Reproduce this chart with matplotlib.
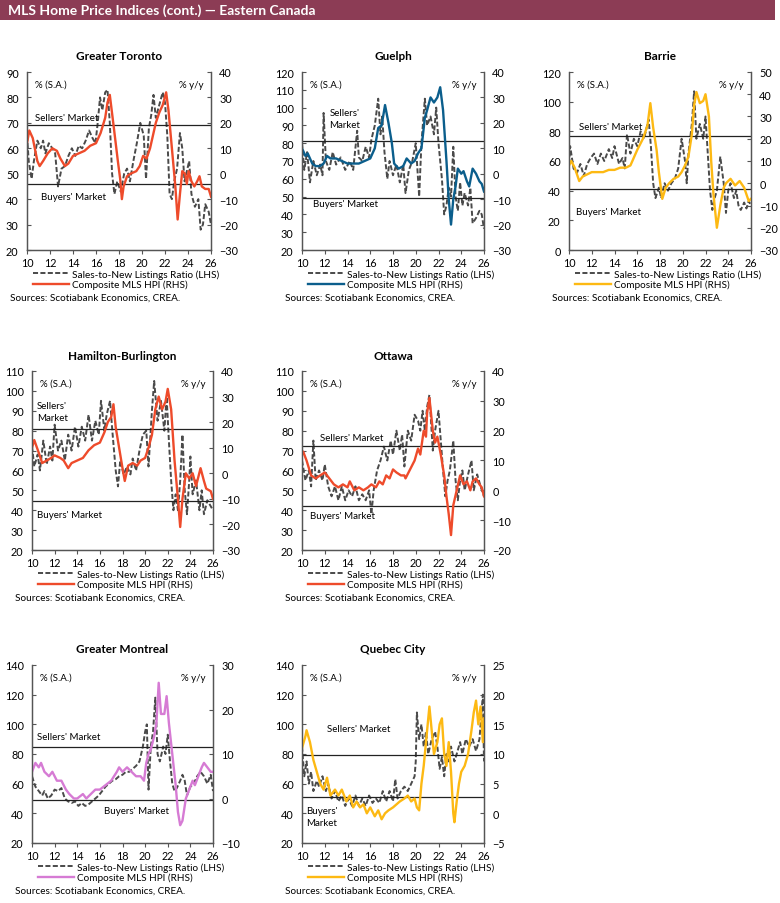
import numpy as np
import matplotlib.pyplot as plt
from matplotlib.patches import Rectangle
from matplotlib.lines import Line2D
plt.switch_backend('agg')

plt.rcParams['font.family'] = ['Lato', 'DejaVu Sans']

# ---- data: [year, value] ----
tor_snlr = [[2010.0,65],[2010.15,55],[2010.4,48],[2010.6,55],[2010.9,63],[2011.2,60],[2011.4,63],[2011.6,58],
            [2011.9,62],[2012.2,60],[2012.45,58],[2012.7,45],[2013.0,52],[2013.3,53],[2013.6,57],[2013.9,60],
            [2014.2,57],[2014.5,61],[2014.8,60],[2015.1,63],[2015.4,67],[2015.7,64],[2015.95,62],[2016.15,70],
            [2016.35,80],[2016.55,75],[2016.8,82],[2017.0,83],[2017.2,70],[2017.4,50],[2017.6,42],[2017.85,47],
            [2018.15,43],[2018.45,50],[2018.7,52],[2018.95,47],[2019.25,55],[2019.55,62],[2019.85,70],[2020.15,65],
            [2020.35,48],[2020.6,68],[2020.8,73],[2021.0,81],[2021.2,72],[2021.5,77],[2021.8,82],[2022.0,78],
            [2022.2,65],[2022.4,42],[2022.6,40],[2022.8,47],[2023.05,52],[2023.3,66],[2023.5,60],[2023.7,47],
            [2023.95,52],[2024.1,55],[2024.3,42],[2024.6,37],[2024.9,40],[2025.1,28],[2025.3,30],[2025.5,38],
            [2025.8,35],[2026.0,30]]
tor_hpi = [[2010.0,12],[2010.2,17],[2010.5,14],[2010.9,5],[2011.1,3],[2011.4,5],[2011.8,8],[2012.2,10],
           [2012.6,9],[2012.9,6],[2013.3,3],[2013.6,4],[2014.0,7],[2014.5,8],[2015.0,9],[2015.5,11],[2016.0,12],
           [2016.4,16],[2016.8,22],[2017.0,28],[2017.2,31],[2017.5,20],[2017.9,5],[2018.1,-2],[2018.25,-10],
           [2018.4,-5],[2018.7,-1],[2019.0,0],[2019.5,1],[2019.8,3],[2020.1,7],[2020.4,6],[2020.7,10],[2020.9,14],
           [2021.2,20],[2021.5,24],[2021.8,27],[2022.1,32],[2022.3,25],[2022.6,10],[2022.9,-5],[2023.1,-18],
           [2023.3,-8],[2023.5,1],[2023.75,0],[2023.9,-4],[2024.05,1],[2024.3,-3],[2024.55,-5],[2024.8,-3],
           [2025.0,-1],[2025.2,-5],[2025.5,-6],[2025.8,-6],[2026.0,-9]]

gue_snlr = [[2010.0,80],[2010.2,65],[2010.45,75],[2010.7,58],[2011.0,70],[2011.3,62],[2011.6,68],[2011.8,62],
            [2011.9,97],[2012.1,70],[2012.4,65],[2012.7,75],[2013.0,68],[2013.4,72],[2013.8,65],[2014.2,70],
            [2014.5,65],[2014.85,87],[2015.0,72],[2015.3,70],[2015.6,78],[2015.9,72],[2016.1,82],[2016.4,90],
            [2016.7,105],[2016.9,85],[2017.05,95],[2017.25,75],[2017.5,60],[2017.7,70],[2018.0,62],[2018.3,68],
            [2018.6,58],[2018.9,68],[2019.1,52],[2019.4,65],[2019.7,70],[2020.0,80],[2020.3,50],[2020.5,80],
            [2020.8,105],[2021.0,90],[2021.3,95],[2021.6,85],[2021.8,100],[2022.0,80],[2022.3,60],[2022.5,40],
            [2022.7,45],[2022.9,55],[2023.1,50],[2023.3,78],[2023.5,50],[2023.7,42],[2023.9,58],[2024.1,45],
            [2024.3,52],[2024.6,45],[2024.8,55],[2025.0,35],[2025.3,38],[2025.6,42],[2025.8,40],[2026.0,32]]
gue_hpi = [[2010.0,10],[2010.3,7],[2010.5,8],[2010.9,4],[2011.2,3],[2011.6,3],[2011.9,4],[2012.2,7],[2012.5,6],
           [2013.0,6],[2013.5,5],[2014.0,4],[2014.5,4],[2015.0,4],[2015.5,5],[2016.0,6],[2016.4,10],[2016.7,18],
           [2017.0,19],[2017.3,27],[2017.6,20],[2017.9,12],[2018.1,4],[2018.5,2],[2018.9,3],[2019.2,6],[2019.6,4],
           [2019.9,5],[2020.2,8],[2020.5,10],[2020.8,22],[2021.0,25],[2021.3,30],[2021.6,28],[2021.9,30],
           [2022.15,34],[2022.4,25],[2022.7,5],[2022.9,-10],[2023.1,-20],[2023.3,-10],[2023.5,-5],[2023.7,2],
           [2024.0,0],[2024.2,1],[2024.5,-3],[2024.7,-5],[2025.0,2],[2025.3,0],[2025.6,-3],[2025.8,-4],[2026.0,-7]]

bar_snlr = [[2010.0,58],[2010.1,70],[2010.4,55],[2010.7,52],[2011.0,58],[2011.3,50],[2011.6,58],[2011.9,62],
            [2012.2,65],[2012.5,58],[2012.8,65],[2013.1,60],[2013.5,68],[2013.8,62],[2014.0,70],[2014.4,58],
            [2014.7,62],[2014.9,55],[2015.1,78],[2015.4,65],[2015.7,75],[2016.0,70],[2016.3,80],[2016.6,75],
            [2016.9,85],[2017.0,88],[2017.2,70],[2017.4,45],[2017.6,35],[2017.9,42],[2018.1,35],[2018.4,45],
            [2018.7,40],[2019.0,45],[2019.3,48],[2019.6,55],[2019.9,75],[2020.2,60],[2020.35,45],[2020.5,65],
            [2020.8,85],[2021.0,107],[2021.2,75],[2021.5,85],[2021.8,75],[2022.0,90],[2022.2,65],[2022.4,40],
            [2022.6,27],[2022.8,35],[2023.0,40],[2023.3,63],[2023.6,45],[2023.8,25],[2024.0,40],[2024.2,45],
            [2024.5,35],[2024.7,40],[2024.9,30],[2025.1,27],[2025.4,32],[2025.6,28],[2025.8,33],[2026.0,30]]
bar_hpi = [[2010.0,8],[2010.2,10],[2010.5,7],[2010.9,1],[2011.2,3],[2011.6,4],[2012.0,5],[2012.5,5],[2013.0,5],
           [2013.5,6],[2014.0,6],[2014.5,7],[2015.0,7],[2015.4,8],[2016.0,15],[2016.5,20],[2016.9,26],
           [2017.15,36],[2017.4,25],[2017.7,15],[2017.9,5],[2018.2,-7],[2018.5,-2],[2018.8,0],[2019.2,2],
           [2019.6,3],[2019.9,5],[2020.2,8],[2020.5,12],[2020.8,22],[2021.0,35],[2021.2,41],[2021.5,36],
           [2021.8,37],[2022.0,40],[2022.3,30],[2022.5,10],[2022.7,-5],[2022.9,-15],[2023.0,-20],[2023.3,-10],
           [2023.6,-2],[2023.8,0],[2024.0,1],[2024.2,2],[2024.6,-1],[2025.0,1],[2025.4,-2],[2025.6,-5],
           [2025.8,-8],[2026.0,-7]]

ham_snlr = [[2010.0,72],[2010.2,62],[2010.5,68],[2010.7,60],[2011.0,75],[2011.3,63],[2011.6,72],[2011.8,65],
            [2012.0,83],[2012.3,70],[2012.6,75],[2012.9,65],[2013.2,78],[2013.5,70],[2013.8,82],[2014.1,72],
            [2014.4,82],[2014.7,75],[2015.0,88],[2015.3,75],[2015.6,85],[2015.9,78],[2016.1,95],[2016.4,80],
            [2016.6,88],[2016.9,95],[2017.1,80],[2017.4,60],[2017.6,52],[2017.8,65],[2018.1,58],[2018.4,62],
            [2018.7,58],[2018.9,66],[2019.2,60],[2019.5,70],[2019.8,78],[2020.1,80],[2020.3,62],[2020.6,90],
            [2020.8,105],[2021.1,85],[2021.4,95],[2021.7,80],[2021.9,97],[2022.1,75],[2022.3,55],[2022.5,40],
            [2022.7,48],[2022.9,40],[2023.1,55],[2023.3,78],[2023.5,50],[2023.7,38],[2023.9,55],[2024.0,67],
            [2024.2,48],[2024.5,55],[2024.8,40],[2025.0,50],[2025.2,38],[2025.5,45],[2025.8,42],[2026.0,40]]
ham_hpi = [[2010.0,10],[2010.2,13],[2010.6,8],[2010.9,4],[2011.3,5],[2011.7,6],[2012.0,7],[2012.5,6],[2012.8,5],
           [2013.2,2],[2013.5,4],[2014.0,5],[2014.5,6],[2015.0,9],[2015.5,11],[2016.0,12],[2016.4,16],[2016.7,20],
           [2017.0,22],[2017.2,27],[2017.4,18],[2017.7,10],[2018.0,2],[2018.2,-3],[2018.5,3],[2018.9,4],
           [2019.3,3],[2019.6,5],[2020.0,6],[2020.3,10],[2020.6,15],[2020.9,25],[2021.2,30],[2021.5,25],
           [2021.8,28],[2022.0,33],[2022.3,25],[2022.6,5],[2022.9,-10],[2023.1,-21],[2023.3,-10],[2023.6,0],
           [2023.9,-2],[2024.2,0],[2024.5,-5],[2024.9,2],[2025.2,-3],[2025.4,-6],[2025.8,-7],[2026.0,-10]]

ott_snlr = [[2010.0,65],[2010.3,55],[2010.6,60],[2010.8,52],[2011.0,75],[2011.2,55],[2011.5,60],[2011.8,55],
            [2012.0,63],[2012.3,52],[2012.6,47],[2012.9,52],[2013.2,45],[2013.5,52],[2013.8,45],[2014.1,50],
            [2014.4,47],[2014.7,52],[2015.0,45],[2015.3,48],[2015.6,45],[2015.9,50],[2016.1,38],[2016.3,50],
            [2016.6,60],[2016.9,65],[2017.2,72],[2017.5,65],[2017.8,75],[2018.0,68],[2018.3,80],[2018.6,70],
            [2018.8,78],[2019.0,62],[2019.3,80],[2019.6,75],[2019.9,88],[2020.2,85],[2020.4,80],[2020.6,90],
            [2020.8,80],[2021.0,92],[2021.2,98],[2021.5,70],[2021.7,80],[2022.0,90],[2022.2,75],[2022.4,60],
            [2022.6,47],[2022.8,55],[2023.0,60],[2023.3,75],[2023.5,55],[2023.7,45],[2023.9,55],[2024.1,60],
            [2024.3,50],[2024.6,58],[2024.9,65],[2025.1,50],[2025.4,58],[2025.7,52],[2026.0,47]]
ott_hpi = [[2010.0,12],[2010.1,13],[2010.4,10],[2010.8,5],[2011.2,4],[2011.6,5],[2012.0,6],[2012.4,4],[2012.8,2],
           [2013.2,1],[2013.6,2],[2014.0,1],[2014.2,3],[2014.6,0],[2015.0,1],[2015.4,0],[2015.8,1],[2016.1,2],
           [2016.5,1],[2016.8,3],[2017.1,2],[2017.4,5],[2017.7,4],[2018.0,7],[2018.3,6],[2018.7,5],[2019.0,5],
           [2019.1,4],[2019.5,7],[2019.9,10],[2020.2,14],[2020.4,12],[2020.7,20],[2020.9,18],[2021.0,26],
           [2021.2,31],[2021.5,20],[2021.7,16],[2021.9,18],[2022.2,12],[2022.5,5],[2022.7,-2],[2022.9,-8],
           [2023.1,-15],[2023.3,-5],[2023.6,0],[2023.9,5],[2024.2,2],[2024.5,3],[2024.8,0],[2025.0,3],[2025.3,4],
           [2025.6,2],[2025.8,1],[2026.0,-2]]

mtl_snlr = [[2010.0,65],[2010.3,58],[2010.6,55],[2010.9,52],[2011.1,55],[2011.4,50],[2011.7,52],[2012.0,56],
            [2012.3,55],[2012.6,57],[2012.9,50],[2013.2,48],[2013.5,47],[2013.8,48],[2014.1,45],[2014.4,47],
            [2014.7,45],[2015.0,46],[2015.3,48],[2015.6,50],[2015.9,52],[2016.2,55],[2016.5,58],[2016.8,60],
            [2017.1,62],[2017.4,63],[2017.7,65],[2018.0,66],[2018.3,68],[2018.6,68],[2018.9,70],[2019.2,72],
            [2019.5,75],[2019.8,85],[2020.0,95],[2020.15,100],[2020.3,56],[2020.5,85],[2020.7,95],[2020.9,118],
            [2021.1,80],[2021.3,75],[2021.6,85],[2021.8,80],[2022.0,93],[2022.2,75],[2022.4,60],[2022.6,55],
            [2022.8,57],[2023.1,62],[2023.3,66],[2023.5,62],[2023.7,52],[2024.0,58],[2024.3,60],[2024.6,65],
            [2024.9,68],[2025.2,65],[2025.5,60],[2025.8,66],[2026.0,55]]
mtl_hpi = [[2010.0,6],[2010.3,8],[2010.6,7],[2010.8,8],[2011.1,6],[2011.5,5],[2011.8,6],[2012.2,4],[2012.6,4],
           [2013.0,2],[2013.3,1],[2013.7,0],[2014.0,0],[2014.5,1],[2014.8,0],[2015.2,1],[2015.6,2],[2016.0,2],
           [2016.5,3],[2017.0,4],[2017.5,6],[2017.7,7],[2018.0,6],[2018.4,7],[2018.8,6],[2019.2,5],[2019.6,5],
           [2019.9,4],[2020.1,8],[2020.3,10],[2020.5,11],[2020.8,14],[2021.0,17],[2021.2,26],[2021.4,19],
           [2021.7,19],[2021.9,23],[2022.1,17],[2022.4,10],[2022.7,3],[2022.9,-3],[2023.1,-6],[2023.3,-5],
           [2023.6,0],[2023.9,2],[2024.2,4],[2024.4,3],[2024.7,5],[2025.0,7],[2025.2,8],[2025.5,7],[2025.8,6],
           [2026.0,6]]

qc_snlr = [[2010.0,85],[2010.2,65],[2010.4,75],[2010.6,60],[2010.8,68],[2011.0,55],[2011.3,62],[2011.5,58],
           [2011.8,65],[2012.1,55],[2012.3,60],[2012.6,50],[2012.9,55],[2013.2,48],[2013.5,52],[2013.8,45],
           [2014.1,50],[2014.4,45],[2014.7,52],[2015.0,45],[2015.3,50],[2015.6,45],[2015.9,52],[2016.2,47],
           [2016.5,50],[2016.8,47],[2017.1,55],[2017.4,48],[2017.7,55],[2018.0,48],[2018.2,63],[2018.4,50],
           [2018.7,55],[2019.0,58],[2019.3,55],[2019.6,60],[2019.9,65],[2020.0,75],[2020.1,108],[2020.3,90],
           [2020.5,100],[2020.7,85],[2020.9,95],[2021.1,80],[2021.4,90],[2021.7,95],[2021.9,85],[2022.1,70],
           [2022.3,78],[2022.5,65],[2022.7,80],[2022.9,75],[2023.1,85],[2023.4,75],[2023.6,80],[2023.9,88],
           [2024.1,80],[2024.4,90],[2024.7,85],[2025.0,90],[2025.3,82],[2025.6,90],[2025.9,120],[2026.0,75]]
qc_hpi = [[2010.0,11],[2010.3,13],[2010.4,14],[2010.7,12],[2011.0,9],[2011.3,7],[2011.6,5],[2011.9,4],[2012.2,6],
          [2012.5,3],[2012.9,4],[2013.2,3],[2013.5,4],[2013.9,2],[2014.2,3],[2014.5,1],[2014.8,2],[2015.1,1],
          [2015.4,1.5],[2015.7,0],[2016.0,1],[2016.4,-0.5],[2016.7,0.5],[2017.0,-1],[2017.3,0],[2017.6,0.5],
          [2018.0,1],[2018.3,1.5],[2018.6,2],[2019.0,2.5],[2019.3,3],[2019.6,2],[2019.9,2.5],[2020.1,1],
          [2020.3,0.5],[2020.5,5],[2020.7,8],[2020.9,12],[2021.2,18],[2021.4,14],[2021.6,10],[2021.9,12],
          [2022.1,15],[2022.3,16],[2022.5,10],[2022.7,8],[2022.9,12],[2023.1,7],[2023.3,0],[2023.4,-1.5],
          [2023.6,2],[2023.8,5],[2024.0,7],[2024.3,8],[2024.6,10],[2024.9,14],[2025.1,17],[2025.3,19],
          [2025.5,15],[2025.7,18],[2025.9,12],[2026.0,16]]

years_ticks = [2010, 2012, 2014, 2016, 2018, 2020, 2022, 2024, 2026]
year_labels = ['10', '12', '14', '16', '18', '20', '22', '24', '26']

RED = '#EE4B2B'
BLUE = '#0B5E8C'
GOLD = '#FDB913'
PINK = '#D67BD4'
GREY = '#4A4A4A'

W, H = 780, 904
fig = plt.figure(figsize=(W / 100, H / 100), dpi=100)

# header bar
fig.patches.append(Rectangle((0, 1 - 21 / H), 775 / W, 21 / H, transform=fig.transFigure,
                             facecolor='#8C3C55', edgecolor='none'))
fig.text(8 / W, 1 - 10.5 / H, 'MLS Home Price Indices (cont.) — Eastern Canada', color='white',
         fontsize=10, fontweight='bold', va='center', ha='left')


def panel(box, title, snlr, hpi, color, lhs, rhs, sellers, buyers, sell_txt, buy_txt):
    l, t, r, b = box
    ax = fig.add_axes([l / W, 1 - b / H, (r - l) / W, (b - t) / H])
    ax2 = ax.twinx()
    s = np.array(snlr)
    h = np.array(hpi)
    ax.plot(s[:, 0], s[:, 1], color=GREY, lw=1.4, dashes=(2.6, 1.2))
    ax.axhline(sellers, color='#222222', lw=0.9)
    ax.axhline(buyers, color='#222222', lw=0.9)
    ax2.plot(h[:, 0], h[:, 1], color=color, lw=1.7)
    ax.set_xlim(2010, 2026)
    ax.set_ylim(lhs[0], lhs[1])
    ax.set_yticks(np.arange(lhs[0], lhs[1] + 0.1, lhs[2]))
    ax2.set_ylim(rhs[0], rhs[1])
    ax2.set_yticks(np.arange(rhs[0], rhs[1] + 0.1, rhs[2]))
    ax.set_xticks(years_ticks)
    ax.set_xticklabels(year_labels)
    for a in (ax, ax2):
        a.spines['top'].set_visible(False)
        for sp in ('left', 'right', 'bottom'):
            a.spines[sp].set_color('#555555')
            a.spines[sp].set_linewidth(0.9)
        a.tick_params(axis='y', direction='in', length=3, labelsize=7.8, pad=6, color='#555555')
    ax.tick_params(axis='x', direction='out', length=3, labelsize=7.8, pad=2, color='#555555')
    ax.set_title(title, fontsize=8.5, fontweight='bold', pad=9)
    ax.text(0.045, 0.955, '% (S.A.)', transform=ax.transAxes, fontsize=7, va='top', ha='left')
    ax.text(0.96, 0.955, '% y/y', transform=ax.transAxes, fontsize=7, va='top', ha='right')
    ax.text(sell_txt[0], sell_txt[1], sell_txt[2], fontsize=7, va='center', ha='left', linespacing=1.4)
    ax.text(buy_txt[0], buy_txt[1], buy_txt[2], fontsize=7, va='center', ha='left', linespacing=1.4)
    handles = [Line2D([], [], color=GREY, lw=1.4, dashes=(2.6, 1.2)), Line2D([], [], color=color, lw=1.7)]
    labels = ['Sales-to-New Listings Ratio (LHS)', 'Composite MLS HPI (RHS)']
    ax2.legend(handles, labels, loc='upper left', bbox_to_anchor=((l + 6) / W, 1 - (b + 19) / H),
               bbox_transform=fig.transFigure, frameon=False, fontsize=7.2, handlelength=3.6,
               handletextpad=0.3, labelspacing=0.1, borderpad=0, borderaxespad=0)
    fig.text((l - 17) / W, 1 - (b + 47) / H, 'Sources: Scotiabank Economics, CREA.', fontsize=7.2,
             va='center', ha='left')


panel((27, 73, 211, 251), 'Greater Toronto', tor_snlr, tor_hpi, RED, (20, 90, 10), (-30, 40, 10), 69, 46,
      (2010.7, 72, "Sellers' Market"), (2011.2, 41, "Buyers' Market"))
panel((302, 73, 484, 251), 'Guelph', gue_snlr, gue_hpi, BLUE, (20, 120, 10), (-30, 40, 10), 81, 49,
      (2012.4, 94, "Sellers'\nMarket"), (2011.0, 46, "Buyers' Market"))
panel((569, 73, 751, 251), 'Barrie', bar_snlr, bar_hpi, GOLD, (0, 120, 20), (-30, 50, 10), 77, 41,
      (2010.9, 83, "Sellers' Market"), (2010.6, 26, "Buyers' Market"))
panel((32, 372, 213, 551), 'Hamilton-Burlington', ham_snlr, ham_hpi, RED, (20, 110, 10), (-30, 40, 10), 81, 44.5,
      (2010.45, 89.5, "Sellers'\nMarket"), (2010.45, 38, "Buyers' Market"))
panel((302, 372, 484, 551), 'Ottawa', ott_snlr, ott_hpi, RED, (20, 110, 10), (-20, 40, 10), 72.5, 42,
      (2011.6, 76.5, "Sellers' Market"), (2010.7, 37.5, "Buyers' Market"))
panel((32, 666, 213, 844), 'Greater Montreal', mtl_snlr, mtl_hpi, PINK, (20, 140, 20), (-10, 30, 10), 84.5, 49,
      (2010.45, 91.5, "Sellers' Market"), (2016.4, 42, "Buyers' Market"))
panel((302, 666, 484, 844), 'Quebec City', qc_snlr, qc_hpi, GOLD, (20, 140, 20), (-5, 25, 5), 79, 51,
      (2012.2, 97.5, "Sellers' Market"), (2010.35, 38, "Buyers'\nMarket"))

fig.savefig('out.png', dpi=100)
